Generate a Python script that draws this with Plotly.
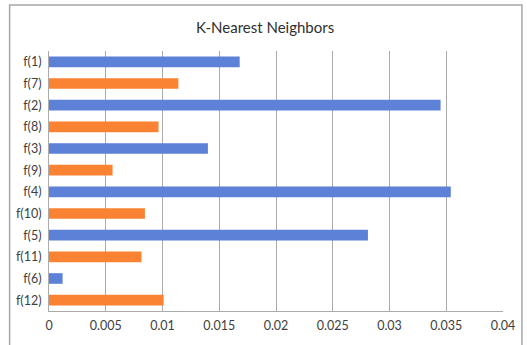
import plotly.graph_objects as go

# Feature importances for the K-Nearest Neighbors model
features = ["f(1)", "f(7)", "f(2)", "f(8)", "f(3)", "f(9)",
            "f(4)", "f(10)", "f(5)", "f(11)", "f(6)", "f(12)"]
importance = [0.0168, 0.0114, 0.0345, 0.00965, 0.0140, 0.0056,
              0.0354, 0.00845, 0.0281, 0.00815, 0.0012, 0.0101]
x_ticks = [0, 0.005, 0.01, 0.015, 0.02, 0.025, 0.03, 0.035, 0.04]
x_tick_text = ["0", "0.005", "0.01", "0.015", "0.02", "0.025", "0.03", "0.035", "0.04"]

BLUE = "#5C81D7"
ORANGE = "#F98233"
colors = [BLUE if i % 2 == 0 else ORANGE for i in range(len(features))]

W, H = 527, 345
ml, mr, mt, mb = 48.5, 23, 51, 29
pw, ph = W - ml - mr, H - mt - mb

def px_x(px):
    return (px - ml) / pw

def px_y(py):
    return (H - mb - py) / ph

fig = go.Figure(go.Bar(
    x=importance,
    y=features,
    orientation="h",
    marker=dict(color=colors, line=dict(width=0)),
    width=0.49,
    hoverinfo="x+y",
))

font = "Lato, 'Open Sans', sans-serif"

fig.update_layout(
    width=W, height=H,
    margin=dict(l=ml, r=mr, t=mt, b=mb, pad=0),
    paper_bgcolor="white",
    plot_bgcolor="white",
    showlegend=False,
    font=dict(family=font, size=12.5, color="#404040"),
    xaxis=dict(
        range=[0, 0.04],
        tickvals=x_ticks,
        ticktext=x_tick_text,
        showgrid=True,
        gridcolor="#ABABAB",
        gridwidth=1,
        zeroline=False,
        showline=True,
        linecolor="#ABABAB",
        linewidth=1,
        ticks="",
        ticklabelstandoff=3,
        tickfont=dict(size=12.5, color="#404040"),
        fixedrange=True,
    ),
    yaxis=dict(
        categoryorder="array",
        categoryarray=features,
        autorange="reversed",
        showgrid=False,
        zeroline=False,
        showline=True,
        linecolor="#ABABAB",
        linewidth=1,
        ticks="",
        ticklabelstandoff=4,
        tickfont=dict(size=12.5, color="#404040"),
        fixedrange=True,
    ),
    annotations=[dict(
        text="K-Nearest Neighbors",
        xref="paper", yref="paper",
        x=px_x(265), y=px_y(27),
        xanchor="center", yanchor="middle",
        showarrow=False,
        font=dict(family=font, size=15, color="#303030"),
    )],
    shapes=[dict(
        type="rect",
        xref="paper", yref="paper",
        x0=px_x(9), x1=px_x(523),
        y0=px_y(360), y1=px_y(4),
        line=dict(color="#A6A6A6", width=1.5),
        fillcolor="rgba(0,0,0,0)",
        layer="below",
    )],
)

fig.write_html("out.html")
